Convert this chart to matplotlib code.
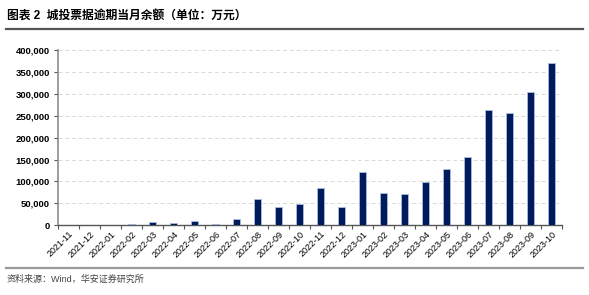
import numpy as np
import matplotlib
matplotlib.use('Agg')
import matplotlib.pyplot as plt
from matplotlib.ticker import FuncFormatter
from matplotlib.lines import Line2D

plt.rcParams['font.family'] = ['Liberation Sans', 'Noto Sans CJK SC', 'DejaVu Sans']

months = ['2021-11', '2021-12', '2022-01', '2022-02', '2022-03', '2022-04',
          '2022-05', '2022-06', '2022-07', '2022-08', '2022-09', '2022-10',
          '2022-11', '2022-12', '2023-01', '2023-02', '2023-03', '2023-04',
          '2023-05', '2023-06', '2023-07', '2023-08', '2023-09', '2023-10']
balance = [0, 0, 0, 3000, 6000, 4000,
           9000, 2000, 13600, 60500, 41000, 47500,
           84000, 41500, 122000, 72800, 70300, 99000,
           127500, 156500, 262500, 256500, 304000, 371000]

title = '图表 2  城投票据逾期当月余额（单位：万元）'
source = '资料来源：Wind，华安证券研究所'

fig = plt.figure(figsize=(5.89, 2.95), dpi=100)
ax = fig.add_axes([0.0985, 0.237, 0.856, 0.592])

x = np.arange(len(months))
ax.bar(x, balance, width=0.34, color='#001a5c', edgecolor='#a9bde0', linewidth=0.6, zorder=3)

ax.set_xlim(-0.5, len(months) - 0.5)
ax.set_ylim(0, 400000)
ax.set_yticks(np.arange(0, 400001, 50000))
ax.yaxis.set_major_formatter(FuncFormatter(lambda v, p: f'{int(v):,}'))
ax.set_xticks(x)
ax.set_xticklabels(months, rotation=45, ha='right', rotation_mode='anchor', fontsize=6.5)
ax.set_xticks(np.arange(-0.5, len(months)), minor=True)
ax.tick_params(axis='x', which='major', length=0, pad=3)
ax.tick_params(axis='x', which='minor', length=3, color='#555555', width=0.8)
ax.tick_params(axis='y', length=3, color='#555555', width=0.8, labelsize=6.8, pad=3)
for lab in ax.get_yticklabels():
    lab.set_fontweight('bold')

ax.grid(axis='y', linestyle=(0, (4, 3)), color='#d9d9d9', linewidth=0.7, zorder=0)
for s in ['top', 'right']:
    ax.spines[s].set_visible(False)
ax.spines['left'].set_color('#8c8c8c')
ax.spines['left'].set_linewidth(1.2)
ax.spines['bottom'].set_color('#555555')
ax.spines['bottom'].set_linewidth(1.0)

fig.text(0.012, 0.945, title, fontsize=8.5, fontweight='bold', va='center', ha='left')
fig.add_artist(Line2D([0.01, 0.99], [0.902, 0.902], color='#555555', linewidth=1.6))
fig.add_artist(Line2D([0.01, 0.99], [0.092, 0.092], color='#999999', linewidth=1.6))
fig.text(0.012, 0.053, source, fontsize=6.5, va='center', ha='left', color='#444444')

fig.savefig('out.png', dpi=100)
